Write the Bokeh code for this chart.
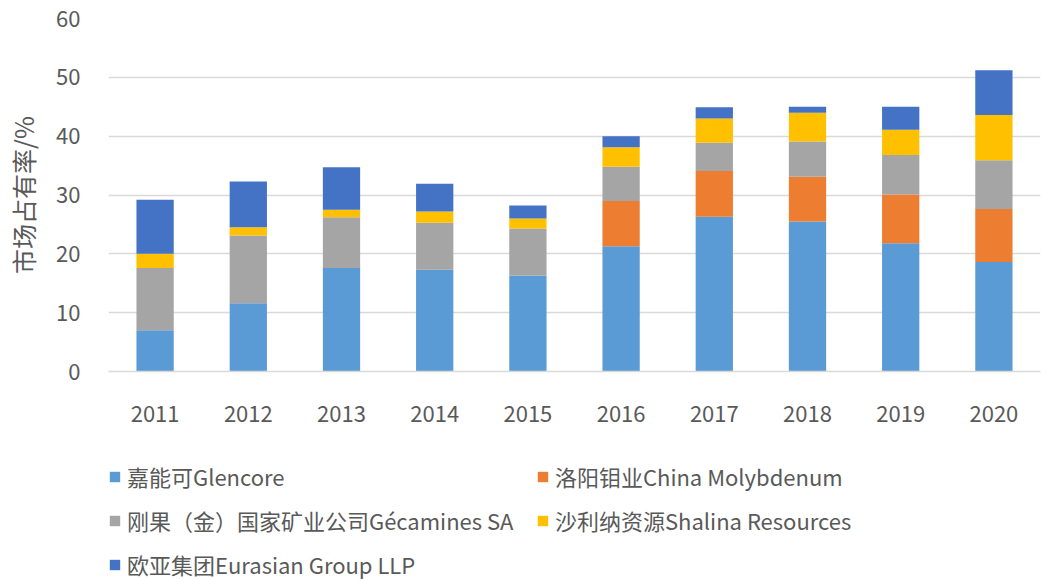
from bokeh.plotting import figure
from bokeh.models import Legend, LegendItem, ColumnDataSource, Range1d, FixedTicker
from bokeh.layouts import column
from bokeh.embed import file_html
from bokeh.resources import INLINE

years = ["2011", "2012", "2013", "2014", "2015", "2016", "2017", "2018", "2019", "2020"]
glencore = [7.0, 11.6, 17.6, 17.3, 16.3, 21.3, 26.3, 25.5, 21.8, 18.6]
cmoc = [0, 0, 0, 0, 0, 7.7, 7.8, 7.6, 8.3, 9.0]
gecamines = [10.6, 11.5, 8.6, 8.0, 8.0, 5.8, 4.8, 6.0, 6.7, 8.3]
shalina = [2.4, 1.4, 1.3, 1.9, 1.7, 3.3, 4.1, 4.9, 4.3, 7.7]
erg = [9.2, 7.8, 7.2, 4.7, 2.2, 1.9, 1.9, 1.0, 3.9, 7.6]

series_keys = ["glencore", "cmoc", "gecamines", "shalina", "erg"]
series_labels = ["嘉能可Glencore", "洛阳钼业China Molybdenum", "刚果（金）国家矿业公司Gécamines SA",
                 "沙利纳资源Shalina Resources", "欧亚集团Eurasian Group LLP"]
colors = ["#5B9BD5", "#ED7D31", "#A5A5A5", "#FFC000", "#4472C4"]
y_ticks = [0, 10, 20, 30, 40, 50, 60]

FONT = "Noto Sans CJK SC"
TXT = "#595959"

source = ColumnDataSource(dict(years=years, glencore=glencore, cmoc=cmoc,
                               gecamines=gecamines, shalina=shalina, erg=erg))

p = figure(x_range=years, width=1047, height=440, output_backend="svg",
           toolbar_location=None, min_border_left=108, min_border_right=7,
           min_border_top=18, min_border_bottom=69)
p.y_range = Range1d(0, 60)

renderers = p.vbar_stack(series_keys, x="years", width=0.4, color=colors,
                         line_color=None, source=source)

p.outline_line_color = None
p.background_fill_color = "white"
p.border_fill_color = "white"
p.xgrid.grid_line_color = None
p.ygrid.grid_line_color = "#d9d9d9"
p.ygrid.grid_line_width = 1.3
p.yaxis.ticker = FixedTicker(ticks=y_ticks)

for ax in (p.xaxis[0], p.yaxis[0]):
    ax.major_tick_line_color = None
    ax.minor_tick_line_color = None
    ax.major_label_text_font = FONT
    ax.major_label_text_font_size = "22px"
    ax.major_label_text_color = TXT
p.yaxis.axis_line_color = None
p.xaxis.axis_line_color = "#d9d9d9"
p.xaxis.axis_line_width = 1.3
p.xaxis.major_label_standoff = 28
p.yaxis.major_label_standoff = 22
p.yaxis.axis_label = "市场占有率/%"
p.yaxis.axis_label_text_font = FONT
p.yaxis.axis_label_text_font_size = "25px"
p.yaxis.axis_label_text_font_style = "normal"
p.yaxis.axis_label_text_color = TXT
p.yaxis.axis_label_standoff = 12

# legend figure (proxy renderers sit outside the visible range)
lg = figure(width=1047, height=139, output_backend="svg", toolbar_location=None,
            min_border=0, min_border_left=0, min_border_right=0,
            min_border_top=0, min_border_bottom=0,
            x_range=Range1d(0, 1), y_range=Range1d(0, 1))
lg.axis.visible = False
lg.grid.grid_line_color = None
lg.outline_line_color = None
lg.border_fill_color = "white"
proxy = ColumnDataSource(dict(x=[-10], top=[-10]))
lg_renderers = [lg.vbar(x="x", top="top", width=0.1, color=c, line_color=None, source=proxy)
                for c in colors]

items = [LegendItem(label=lab, renderers=[r]) for lab, r in zip(series_labels, lg_renderers)]
legend = Legend(items=items, orientation="horizontal", ncols=2, location=(0, -1),
                label_text_font=FONT, label_text_font_size="22px", label_text_color=TXT,
                glyph_width=13, glyph_height=13, label_standoff=6, spacing=12,
                label_height=24, label_width=397, padding=0, margin=0,
                border_line_color=None, background_fill_alpha=0)
lg.add_layout(legend, "center")

layout = column(p, lg, spacing=0)
open("out.html", "w").write(file_html(layout, INLINE))
